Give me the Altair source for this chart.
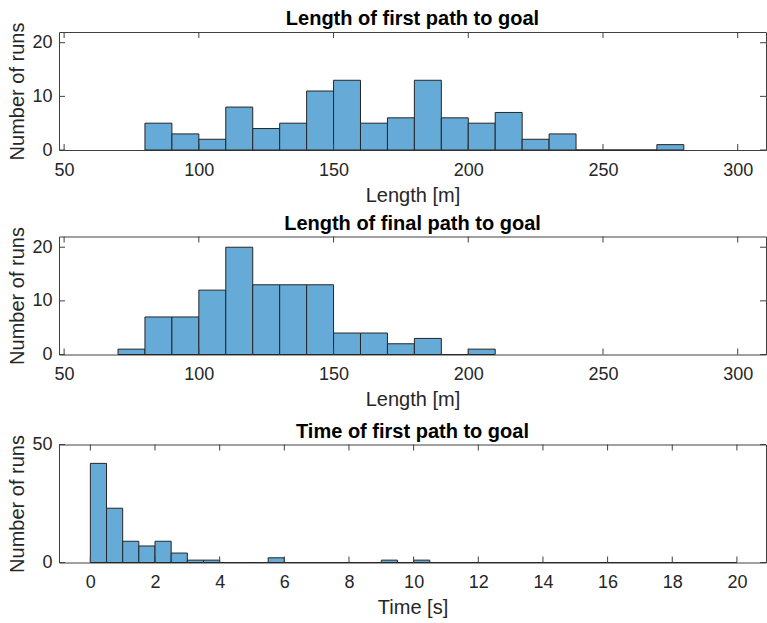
import altair as alt
import pandas as pd

# ---- data ----
first_edges = [80, 90, 100, 110, 120, 130, 140, 150, 160, 170, 180, 190, 200,
               210, 220, 230, 240, 250, 260, 270, 280]
first_counts = [5, 3, 2, 8, 4, 5, 11, 13, 5, 6, 13, 6, 5, 7, 2, 3, 0, 0, 0, 1]

final_edges = [70, 80, 90, 100, 110, 120, 130, 140, 150, 160, 170, 180, 190, 200, 210]
final_counts = [1, 7, 7, 12, 20, 13, 13, 13, 4, 4, 2, 3, 0, 1]

time_edges = [0, 0.5, 1, 1.5, 2, 2.5, 3, 3.5, 4, 4.5, 5, 5.5, 6, 6.5, 7, 7.5, 8, 8.5,
              9, 9.5, 10, 10.5, 11, 11.5, 12, 12.5, 13, 13.5, 14, 14.5, 15, 15.5,
              16, 16.5, 17, 17.5, 18, 18.5, 19, 19.5, 20]
time_counts = [42, 23, 9, 7, 9, 4, 1, 1, 0, 0, 0, 2, 0, 0, 0, 0, 0, 0, 1, 0,
               1, 0, 0, 0, 0, 0, 0, 0, 0, 0, 0, 0, 0, 0, 0, 0, 0, 0, 0, 0]

length_ticks = [50, 100, 150, 200, 250, 300]
time_ticks = [0, 2, 4, 6, 8, 10, 12, 14, 16, 18, 20]
runs_ticks_length = [0, 10, 20]
runs_ticks_time = [0, 50]

titles = ["Length of first path to goal", "Length of final path to goal",
          "Time of first path to goal"]
x_titles = ["Length [m]", "Length [m]", "Time [s]"]
y_title = "Number of runs"

# ---- style ----
W, H = 707, 118
FILL = "#66AAD7"
EDGE = "#262626"
TXT = "#262626"
FRAME = "#404040"
FONT = "Liberation Sans"
TICK = 6


def panel(title, xtitle, edges, counts, xdom, xticks, ydom, yticks):
    df = pd.DataFrame({"lo": edges[:-1], "hi": edges[1:], "n": counts})
    xs = alt.Scale(domain=xdom, nice=False, zero=False)
    ys = alt.Scale(domain=ydom, nice=False)
    xax = alt.Axis(values=xticks, title=xtitle, labelPadding=11, titlePadding=6)
    yax = alt.Axis(values=yticks, title=y_title, labelPadding=7, titlePadding=4)
    bars = alt.Chart(df).mark_bar(fill=FILL, stroke=EDGE, strokeWidth=1, opacity=1).encode(
        x=alt.X("lo:Q", scale=xs, axis=xax),
        x2="hi:Q",
        y=alt.Y("n:Q", scale=ys, axis=yax),
        y2=alt.datum(0),
    )
    xt = pd.DataFrame({"t": xticks})
    yt = pd.DataFrame({"v": yticks})
    xtop = alt.Chart(xt).mark_rule(color=FRAME, strokeWidth=1).encode(
        x=alt.X("t:Q", scale=xs, axis=xax), y=alt.value(0), y2=alt.value(TICK))
    xbot = alt.Chart(xt).mark_rule(color=FRAME, strokeWidth=1).encode(
        x=alt.X("t:Q", scale=xs, axis=xax), y=alt.value(H), y2=alt.value(H - TICK))
    yleft = alt.Chart(yt).mark_rule(color=FRAME, strokeWidth=1).encode(
        y=alt.Y("v:Q", scale=ys, axis=yax), x=alt.value(0), x2=alt.value(TICK))
    yright = alt.Chart(yt).mark_rule(color=FRAME, strokeWidth=1).encode(
        y=alt.Y("v:Q", scale=ys, axis=yax), x=alt.value(W - TICK), x2=alt.value(W))
    return alt.layer(bars, xtop, xbot, yleft, yright).properties(
        width=W, height=H,
        title=alt.TitleParams(title, fontSize=20, fontWeight="bold", font=FONT,
                              color="#000000", offset=-7, anchor="middle"),
    )


p1 = panel(titles[0], x_titles[0], first_edges, first_counts, [48.1, 310.5],
           length_ticks, [0, 22], runs_ticks_length)
p2 = panel(titles[1], x_titles[1], final_edges, final_counts, [48.1, 310.5],
           length_ticks, [0, 22], runs_ticks_length)
p3 = panel(titles[2], x_titles[2], time_edges, time_counts, [-0.97, 20.9],
           time_ticks, [0, 50], runs_ticks_time)

top = alt.vconcat(p1, p2, spacing=6.5)
chart = alt.vconcat(top, p3, spacing=10.5).properties(
    padding={"left": 7, "top": 8, "right": 0, "bottom": 0},
    background="white",
).configure_view(
    stroke=FRAME, strokeWidth=1
).configure_axis(
    domain=False, ticks=False, grid=False,
    labelFont=FONT, labelFontSize=18, labelColor=TXT,
    titleFont=FONT, titleFontSize=20, titleFontWeight="normal", titleColor=TXT,
)

chart.save("out.html", embed_options={"renderer": "svg", "actions": False})
